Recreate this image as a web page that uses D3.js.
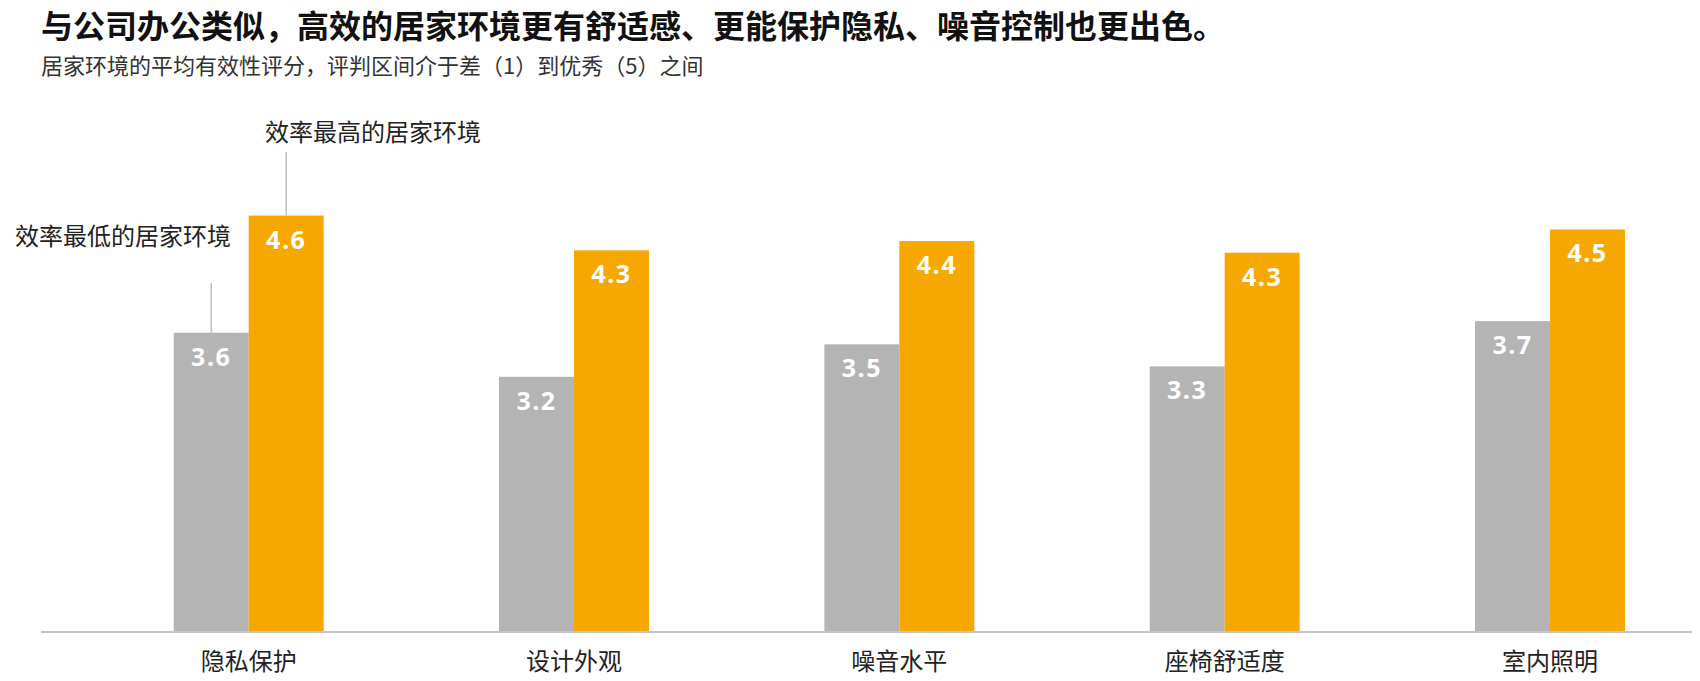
<!DOCTYPE html>
<html>
<head>
<meta charset="utf-8">
<script src="https://cdn.jsdelivr.net/npm/d3@7"></script>
<style>
  body { margin: 0; background: #fff; }
  text { font-family: "Noto Sans CJK SC", "Noto Sans", sans-serif; }
</style>
</head>
<body>
<div id="content"></div>
<script>
var categories = ['隐私保护', '设计外观', '噪音水平', '座椅舒适度', '室内照明'];
var series = ['最低', '最高'];
var lowValues = [3.58, 3.20, 3.48, 3.29, 3.68];
var highValues = [4.59, 4.29, 4.37, 4.27, 4.47];
var yTicks = [1, 5];

var width = 1700, height = 681;
var svg = d3.select('#content').append('svg').attr('width', width).attr('height', height);

var colors = { '最低': '#b4b4b4', '最高': '#f6a800' };

var x = d3.scalePoint().domain(categories).range([248.7, 1550]);
var xSub = d3.scaleBand().domain(series).range([-75, 75]);
var y = d3.scaleLinear().domain(d3.extent(yTicks)).range([632, 168]);

var rows = categories.map(function(c, i){
  return { cat: c, values: [ { s: '最低', v: lowValues[i] }, { s: '最高', v: highValues[i] } ] };
});

// title
svg.append('text').attr('x', 41).attr('y', 38)
  .style('font-size', '32px').style('font-weight', 700).style('fill', '#111')
  .text('与公司办公类似，高效的居家环境更有舒适感、更能保护隐私、噪音控制也更出色。');
svg.append('text').attr('x', 41).attr('y', 74)
  .style('font-size', '22px').style('fill', '#333')
  .text('居家环境的平均有效性评分，评判区间介于差（1）到优秀（5）之间');

// bars
var groups = svg.selectAll('.grp').data(rows).enter().append('g')
  .attr('class', 'grp')
  .attr('transform', function(d){ return 'translate(' + x(d.cat) + ',0)'; });

groups.selectAll('rect').data(function(d){ return d.values; }).enter().append('rect')
  .attr('x', function(d){ return xSub(d.s); })
  .attr('width', xSub.bandwidth())
  .attr('y', function(d){ return y(d.v); })
  .attr('height', function(d){ return y(yTicks[0]) - y(d.v); })
  .style('fill', function(d){ return colors[d.s]; });

groups.selectAll('.val').data(function(d){ return d.values; }).enter().append('text')
  .attr('class', 'val')
  .attr('x', function(d){ return xSub(d.s) + xSub.bandwidth() / 2; })
  .attr('y', function(d){ return y(d.v) + 33; })
  .attr('text-anchor', 'middle')
  .style('font-family', '"Open Sans", sans-serif')
  .style('font-size', '25px').style('font-weight', 700)
  .style('letter-spacing', '1.5px')
  .style('fill', '#fff')
  .text(function(d){ return d3.format('.1f')(d.v); });

// axis
var xAxis = svg.append('g').attr('transform', 'translate(0,' + y(yTicks[0]) + ')');
xAxis.append('line').attr('x1', 41).attr('x2', 1692)
  .style('stroke', '#c4c4c4').style('stroke-width', 2);
xAxis.selectAll('text').data(categories).enter().append('text')
  .attr('x', function(d){ return x(d); })
  .attr('y', 38)
  .attr('text-anchor', 'middle')
  .style('font-size', '24px').style('fill', '#222')
  .text(function(d){ return d; });

// annotations on first group
var first = categories[0];
var lowX = x(first) + xSub('最低') + xSub.bandwidth() / 2;
var highX = x(first) + xSub('最高') + xSub.bandwidth() / 2;

svg.append('line').attr('x1', lowX).attr('x2', lowX)
  .attr('y1', 283).attr('y2', y(lowValues[0]))
  .style('stroke', '#bdbdbd').style('stroke-width', 1.5);
svg.append('line').attr('x1', highX).attr('x2', highX)
  .attr('y1', 152).attr('y2', y(highValues[0]))
  .style('stroke', '#bdbdbd').style('stroke-width', 1.5);

svg.append('text').attr('x', 15).attr('y', 245)
  .style('font-size', '24px').style('fill', '#222')
  .text('效率最低的居家环境');
svg.append('text').attr('x', 265).attr('y', 141)
  .style('font-size', '24px').style('fill', '#222')
  .text('效率最高的居家环境');
</script>
</body>
</html>
